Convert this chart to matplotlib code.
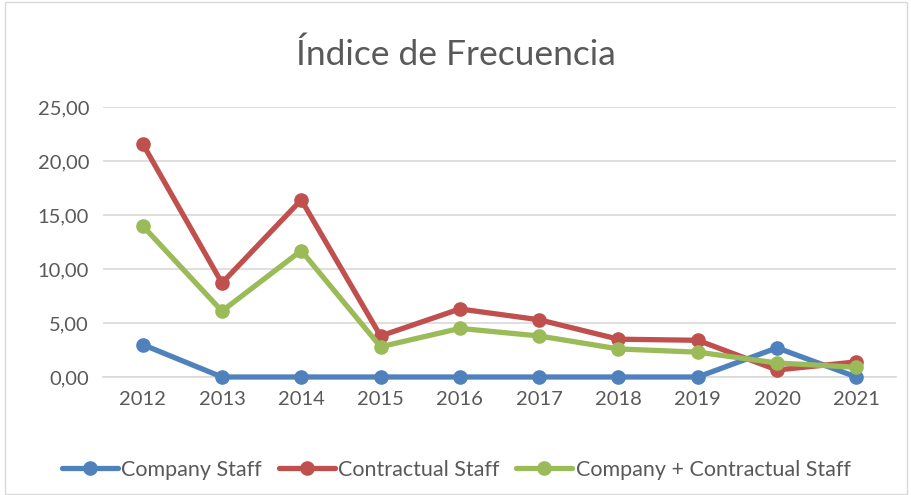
import matplotlib.pyplot as plt
from matplotlib.patches import Rectangle
from matplotlib.ticker import FuncFormatter

years = ['2012', '2013', '2014', '2015', '2016', '2017', '2018', '2019', '2020', '2021']
company = [3.0, 0.0, 0.0, 0.0, 0.0, 0.0, 0.0, 0.0, 2.7, 0.0]
contractual = [21.6, 8.7, 16.4, 3.8, 6.3, 5.3, 3.5, 3.4, 0.65, 1.4]
combined = [14.0, 6.1, 11.7, 2.8, 4.5, 3.8, 2.6, 2.3, 1.3, 0.9]

labels = ['Company Staff', 'Contractual Staff', 'Company + Contractual Staff']
colors = ['#4F81BD', '#C0504D', '#9BBB59']
text_color = '#595959'

plt.rcParams['font.family'] = ['Lato', 'DejaVu Sans']

fig = plt.figure(figsize=(9.12, 4.95), dpi=100)
ax = fig.add_axes([103 / 912, 1 - 377 / 495, 793 / 912, 270 / 495])

x = range(len(years))
for series, lab, col in zip([company, contractual, combined], labels, colors):
    ax.plot(x, series, color=col, lw=3.8, marker='o', ms=9.5, label=lab,
            solid_capstyle='round', clip_on=False, zorder=3)

ax.set_xlim(-0.5, len(years) - 0.5)
ax.set_ylim(0, 25)
ax.set_yticks([0, 5, 10, 15, 20, 25])
ax.yaxis.set_major_formatter(FuncFormatter(lambda v, p: f'{v:.2f}'.replace('.', ',')))
ax.set_xticks(list(x))
ax.set_xticklabels(years)
ax.tick_params(axis='both', length=0, labelsize=14.5, colors=text_color, pad=10)
ax.tick_params(axis='y', pad=10)
ax.grid(axis='y', color='#D9D9D9', lw=1.2)
ax.set_axisbelow(True)
for s in ['top', 'right', 'left']:
    ax.spines[s].set_visible(False)
ax.spines['bottom'].set_color('#D9D9D9')
ax.spines['bottom'].set_linewidth(1.2)

fig.text(0.5, 1 - 55 / 495, 'Índice de Frecuencia', ha='center', va='center',
         fontsize=25.5, color=text_color)

fig.legend(loc='center', bbox_to_anchor=(0.5, 1 - 470 / 495), ncol=3, frameon=False,
           fontsize=15.5, labelcolor=text_color, handlelength=2.6, handletextpad=0.15,
           columnspacing=0.8)

fig.patches.append(Rectangle((5 / 912, 0.002), 902 / 912, 0.994, transform=fig.transFigure,
                             fill=False, edgecolor='#D9D9D9', lw=1))

fig.savefig('out.png', dpi=100)
